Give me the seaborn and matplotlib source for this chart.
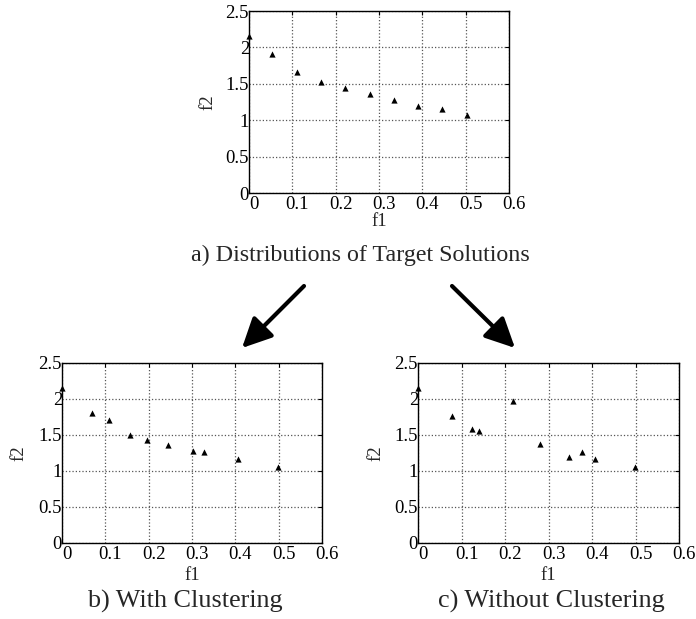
"""
Three scatter panels: target solutions, with and without clustering
"""

import matplotlib
matplotlib.use("Agg")
import matplotlib.pyplot as plt
import matplotlib.transforms as mtransforms
import seaborn as sns
import pandas as pd

# Datos
target_f1 = [0.0, 0.054, 0.110, 0.167, 0.222, 0.278, 0.334, 0.390, 0.446, 0.502]
target_f2 = [2.15, 1.91, 1.66, 1.52, 1.44, 1.36, 1.28, 1.20, 1.16, 1.07]

clust_f1 = [0.0, 0.069, 0.109, 0.158, 0.196, 0.245, 0.302, 0.328, 0.405, 0.499]
clust_f2 = [2.15, 1.81, 1.71, 1.50, 1.435, 1.365, 1.28, 1.27, 1.16, 1.06]

noclust_f1 = [0.0, 0.078, 0.124, 0.140, 0.219, 0.281, 0.346, 0.376, 0.406, 0.499]
noclust_f2 = [2.15, 1.77, 1.59, 1.55, 1.97, 1.375, 1.195, 1.27, 1.16, 1.06]

x_ticks = [0, 0.1, 0.2, 0.3, 0.4, 0.5, 0.6]
y_ticks = [0, 0.5, 1, 1.5, 2, 2.5]
x_tick_labels = ["0", "0.1", "0.2", "0.3", "0.4", "0.5", "0.6"]
y_tick_labels = ["0", "0.5", "1", "1.5", "2", "2.5"]

captions = ["a) Distributions of Target Solutions", "b) With Clustering", "c) Without Clustering"]

sns.set_style("white")
plt.rcParams['font.family'] = ['Liberation Serif', 'DejaVu Serif']


def draw_panel(fig, ax, f1, f2, ylab_x, xlab_y):
    df = pd.DataFrame({"f1": f1, "f2": f2})
    sns.scatterplot(data=df, x="f1", y="f2", ax=ax, marker="^", color="black",
                    s=20, linewidth=0, clip_on=False, zorder=3)
    ax.set_xlim(0, 0.6)
    ax.set_ylim(0, 2.5)
    ax.set_xticks(x_ticks)
    ax.set_yticks(y_ticks)
    ax.set_xticklabels(x_tick_labels)
    ax.set_yticklabels(y_tick_labels)
    ax.tick_params(axis="both", direction="in", length=3, width=0.8,
                   labelsize=13.5, colors="black", top=True, right=True)
    ax.tick_params(axis="x", pad=2)
    ax.tick_params(axis="y", pad=0)
    # etiquetas del eje x algo desplazadas a la derecha, como en el original
    shift = mtransforms.ScaledTranslation(5 / 100, 0, fig.dpi_scale_trans)
    for lbl in ax.get_xticklabels():
        lbl.set_transform(lbl.get_transform() + shift)
    ax.grid(True, linestyle=":", color="#555555", linewidth=0.9)
    ax.set_axisbelow(True)
    for sp in ax.spines.values():
        sp.set_color("black")
        sp.set_linewidth(1.0)
        sp.set_visible(True)
    ax.set_xlabel("f1", fontsize=13.5)
    ax.set_ylabel("f2", fontsize=13.5)
    ax.xaxis.set_label_coords(0.5, xlab_y)
    ax.yaxis.set_label_coords(ylab_x, 0.5)
    ax.xaxis.label.set_va("center")
    ax.yaxis.label.set_va("center")


fig = plt.figure(figsize=(6.96, 6.19), dpi=100)

ax_a = fig.add_axes([0.3578, 0.6882, 0.3736, 0.294])
ax_b = fig.add_axes([0.0891, 0.1228, 0.3736, 0.2908])
ax_c = fig.add_axes([0.6006, 0.1228, 0.3750, 0.2908])

draw_panel(fig, ax_a, target_f1, target_f2, -0.158, -0.157)
draw_panel(fig, ax_b, clust_f1, clust_f2, -0.165, -0.178)
draw_panel(fig, ax_c, noclust_f1, noclust_f2, -0.161, -0.18)

# Titulos de cada panel
fig.text(360 / 696, 1 - 261 / 619, captions[0], ha="center", va="baseline", fontsize=17.3)
fig.text(185 / 696, 1 - 608 / 619, captions[1], ha="center", va="baseline", fontsize=18.8)
fig.text(551 / 696, 1 - 608 / 619, captions[2], ha="center", va="baseline", fontsize=18.8)

# Flechas
arrow_style = dict(arrowstyle="-|>,head_length=0.45,head_width=0.22", color="black",
                   lw=3, mutation_scale=40, shrinkA=0, shrinkB=0)
fig.add_artist(matplotlib.patches.FancyArrowPatch(
    (304 / 696, 1 - 286 / 619), (242 / 696, 1 - 348 / 619),
    transform=fig.transFigure, **arrow_style))
fig.add_artist(matplotlib.patches.FancyArrowPatch(
    (452 / 696, 1 - 286 / 619), (515 / 696, 1 - 348 / 619),
    transform=fig.transFigure, **arrow_style))

fig.savefig("out.png", dpi=100)
plt.close(fig)
